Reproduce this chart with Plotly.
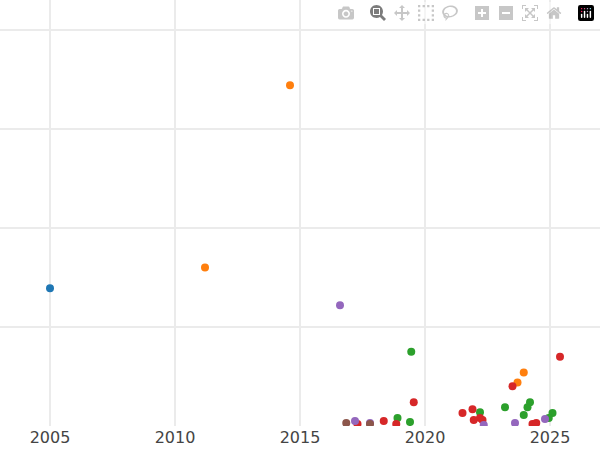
import plotly.graph_objects as go

series_names = ["A", "B", "C", "D", "E", "F"]
colors = ["#1f77b4", "#ff7f0e", "#2ca02c", "#d62728", "#9467bd", "#8c564b"]

a_x = [2005.0]
a_y = [1.39]
b_x = [2014.6, 2011.2, 2023.95, 2023.7]
b_y = [3.44, 1.60, 0.54, 0.44]
c_x = [2019.45, 2024.2, 2024.1, 2023.2, 2022.2, 2025.1, 2023.95, 2018.9, 2024.95, 2019.4]
c_y = [0.75, 0.24, 0.19, 0.19, 0.14, 0.13, 0.11, 0.08, 0.08, 0.04]
d_x = [2025.4, 2023.5, 2019.55, 2021.9, 2021.5, 2022.2, 2021.95, 2022.3, 2018.35, 2017.3, 2018.85, 2024.3, 2024.45]
d_y = [0.70, 0.40, 0.24, 0.17, 0.13, 0.08, 0.06, 0.06, 0.05, 0.02, 0.02, 0.02, 0.03]
e_x = [2016.6, 2024.8, 2017.2, 2017.8, 2023.6, 2022.35]
e_y = [1.22, 0.07, 0.05, 0.03, 0.03, 0.01]
f_x = [2016.85, 2017.8]
f_y = [0.03, 0.02]

xs = [a_x, b_x, c_x, d_x, e_x, f_x]
ys = [a_y, b_y, c_y, d_y, e_y, f_y]

fig = go.Figure()
for name, col, x, y in zip(series_names, colors, xs, ys):
    fig.add_trace(go.Scatter(x=x, y=y, mode="markers", name=name,
                             marker=dict(color=col, size=8)))

fig.update_layout(
    template="plotly_white", width=600, height=450, showlegend=False,
    margin=dict(l=0, r=0, t=0, b=24),
    font=dict(family="DejaVu Sans", size=16, color="#444"),
)
fig.update_xaxes(range=[2003, 2027], tickvals=[2005, 2010, 2015, 2020, 2025],
                 showline=False, zeroline=False, gridcolor="#ebebeb", gridwidth=1.5)
fig.update_yaxes(range=[0, 4.3], tickvals=[1, 2, 3, 4], showticklabels=False,
                 zeroline=False, gridcolor="#ebebeb", gridwidth=1.5)
fig.write_html("out.html", post_script="document.body.style.margin='0';")
